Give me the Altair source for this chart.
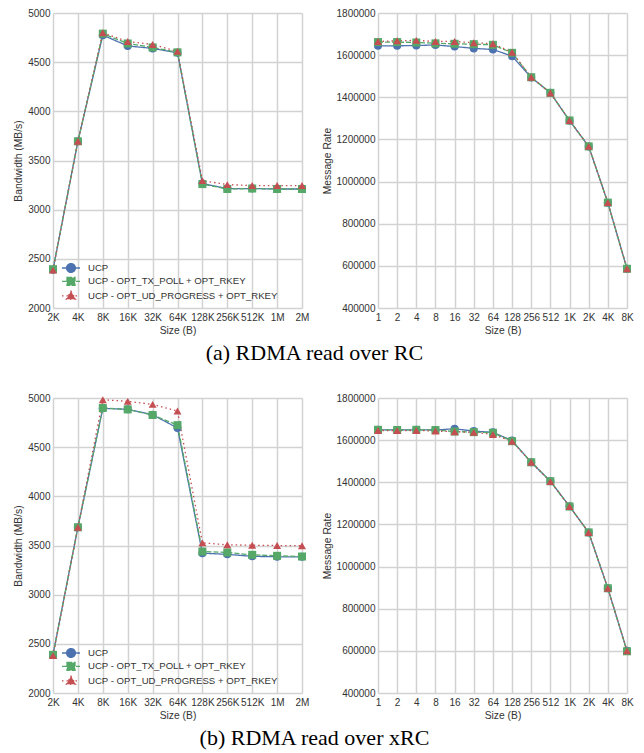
import altair as alt
import pandas as pd

SERIES = ["UCP", "UCP - OPT_TX_POLL + OPT_RKEY", "UCP - OPT_UD_PROGRESS + OPT_RKEY"]
COLORS = ["#4C72B0", "#55A868", "#C44E52"]
DASHES = [[1, 0], [5, 2], [1.5, 3]]
SHAPES = ["circle", "square", "triangle-up"]
LEGEND_PATHS = [
    "M-2.25,0H2.25M-1.1,0A1.1,1.1,0,1,0,1.1,0A1.1,1.1,0,1,0,-1.1,0Z",
    "M-2.25,0H2.25M-1,-1H1V1H-1Z",
    "M-2.25,0H2.25M0,-1.15L1.15,0.85H-1.15Z",
]

sizes_bw = ["2K", "4K", "8K", "16K", "32K", "64K", "128K", "256K", "512K", "1M", "2M"]
sizes_mr = ["1", "2", "4", "8", "16", "32", "64", "128", "256", "512", "1K", "2K", "4K", "8K"]

bw_ticks = [2000, 2500, 3000, 3500, 4000, 4500, 5000]
mr_ticks = [400000, 600000, 800000, 1000000, 1200000, 1400000, 1600000, 1800000]

# (a) RDMA read over RC
rc_bw_ucp = [2390, 3695, 4775, 4665, 4640, 4595, 3265, 3215, 3215, 3210, 3210]
rc_bw_tx = [2395, 3695, 4790, 4690, 4650, 4600, 3260, 3210, 3215, 3210, 3210]
rc_bw_ud = [2385, 3695, 4800, 4710, 4680, 4610, 3295, 3255, 3245, 3245, 3245]

rc_mr_ucp = [1644000, 1644000, 1646000, 1648000, 1641000, 1632000, 1627000, 1595000,
             1494000, 1421000, 1289000, 1167000, 900000, 586000]
rc_mr_tx = [1662000, 1662000, 1660000, 1656000, 1654000, 1652000, 1649000, 1611000,
            1495000, 1421000, 1290000, 1167000, 900000, 586000]
rc_mr_ud = [1665000, 1668000, 1670000, 1665000, 1665000, 1659000, 1654000, 1614000,
            1495000, 1420000, 1290000, 1167000, 900000, 586000]

# (b) RDMA read over xRC
xrc_bw_ucp = [2390, 3685, 4895, 4885, 4830, 4695, 3422, 3410, 3390, 3385, 3385]
xrc_bw_tx = [2388, 3685, 4898, 4884, 4827, 4724, 3439, 3429, 3405, 3395, 3388]
xrc_bw_ud = [2380, 3685, 4983, 4966, 4935, 4867, 3527, 3507, 3503, 3500, 3497]

xrc_mr_ucp = [1649000, 1648000, 1649000, 1648000, 1654000, 1643000, 1637000, 1598000,
              1495000, 1405000, 1286000, 1162000, 897000, 600000]
xrc_mr_tx = [1649000, 1648000, 1649000, 1648000, 1641000, 1638000, 1635000, 1595000,
             1495000, 1405000, 1285000, 1162000, 897000, 598000]
xrc_mr_ud = [1646000, 1645000, 1646000, 1643000, 1640000, 1637000, 1627000, 1594000,
             1495000, 1403000, 1285000, 1162000, 897000, 600000]

FONT = "Liberation Sans"
TXT = "#333333"
GRID = "#d2d2d2"
W, H = 249, 295


def make_df(sizes, series_vals):
    rows = []
    for name, vals in zip(SERIES, series_vals):
        for s, v in zip(sizes, vals):
            rows.append({"size": s, "value": v, "series": name})
    return pd.DataFrame(rows)


def panel(df, sizes, ytitle, ticks, with_legend):
    x = alt.X("size:N", sort=sizes,
              scale=alt.Scale(type="point", padding=0, domain=sizes),
              axis=alt.Axis(title="Size (B)", labelAngle=0, ticks=False, domain=False,
                            grid=True, labelPadding=4, titlePadding=3, labelOverlap=False))
    y = alt.Y("value:Q",
              scale=alt.Scale(domain=[ticks[0], ticks[-1]], nice=False, zero=False),
              axis=alt.Axis(title=ytitle, values=ticks, format="d", ticks=False,
                            domain=False, grid=True, labelPadding=3, titlePadding=4))
    cscale = alt.Scale(domain=SERIES, range=COLORS)
    dscale = alt.Scale(domain=SERIES, range=DASHES)

    layers = []
    if with_legend:
        leg = alt.Legend(title=None, orient="none", legendX=13, legendY=250,
                         labelFont=FONT, labelFontSize=9.6, labelColor=TXT, labelLimit=0,
                         labelOffset=12, rowPadding=-0.6, symbolSize=64,
                         symbolStrokeWidth=1.3, padding=0)
        layers.append(
            alt.Chart(df).transform_filter("false")
            .mark_point(filled=True, size=64, opacity=1, strokeWidth=1.3)
            .encode(
                x=x, y=y,
                color=alt.Color("series:N", scale=cscale, legend=leg),
                stroke=alt.Stroke("series:N", scale=alt.Scale(domain=SERIES, range=COLORS), legend=leg),
                shape=alt.Shape("series:N", scale=alt.Scale(domain=SERIES, range=LEGEND_PATHS), legend=leg),
                strokeDash=alt.StrokeDash("series:N", scale=dscale, legend=leg),
            )
        )
    lines = alt.Chart(df).mark_line(strokeWidth=1.3).encode(
        x=x, y=y,
        color=alt.Color("series:N", scale=cscale, legend=None),
        strokeDash=alt.StrokeDash("series:N", scale=dscale, legend=None),
    )
    layers.append(lines)
    for s, sh in zip(SERIES, SHAPES):
        layers.append(
            alt.Chart(df).transform_filter(alt.datum.series == s)
            .mark_point(filled=True, shape=sh, size=64, opacity=1)
            .encode(x=x, y=y, color=alt.Color("series:N", scale=cscale, legend=None))
        )
    return alt.layer(*layers).properties(width=W, height=H)


def row(caption, bw_vals, mr_vals):
    left = panel(make_df(sizes_bw, bw_vals), sizes_bw, "Bandwidth (MB/s)", bw_ticks, True)
    right = panel(make_df(sizes_mr, mr_vals), sizes_mr, "Message Rate", mr_ticks, False)
    return alt.hconcat(left, right, spacing=13).resolve_scale(
        color="independent", strokeDash="independent", shape="independent", stroke="independent"
    ).resolve_legend(
        color="independent", strokeDash="independent", shape="independent", stroke="independent"
    ).properties(
        title=alt.TitleParams(caption, orient="bottom", anchor="middle", font="Liberation Serif",
                              fontSize=22, fontWeight="normal", color="black", offset=8, dx=-9)
    )


row_a = row("(a) RDMA read over RC", [rc_bw_ucp, rc_bw_tx, rc_bw_ud], [rc_mr_ucp, rc_mr_tx, rc_mr_ud])
row_b = row("(b) RDMA read over xRC", [xrc_bw_ucp, xrc_bw_tx, xrc_bw_ud], [xrc_mr_ucp, xrc_mr_tx, xrc_mr_ud])

chart = alt.vconcat(row_a, row_b, spacing=28).resolve_scale(
    color="independent", strokeDash="independent", shape="independent", stroke="independent"
).resolve_legend(
    color="independent", strokeDash="independent", shape="independent", stroke="independent"
).properties(
    padding={"left": 5, "top": 0, "right": 0, "bottom": 0}
).configure_view(stroke=None).configure_axis(
    labelFont=FONT, labelFontSize=10, labelColor=TXT,
    titleFont=FONT, titleFontSize=10.3, titleFontWeight="normal", titleColor=TXT,
    gridColor=GRID, gridWidth=1.5, gridOpacity=1,
).configure_legend(symbolStrokeWidth=1.3)

chart.save("out.html", embed_options={"renderer": "svg", "actions": False})
